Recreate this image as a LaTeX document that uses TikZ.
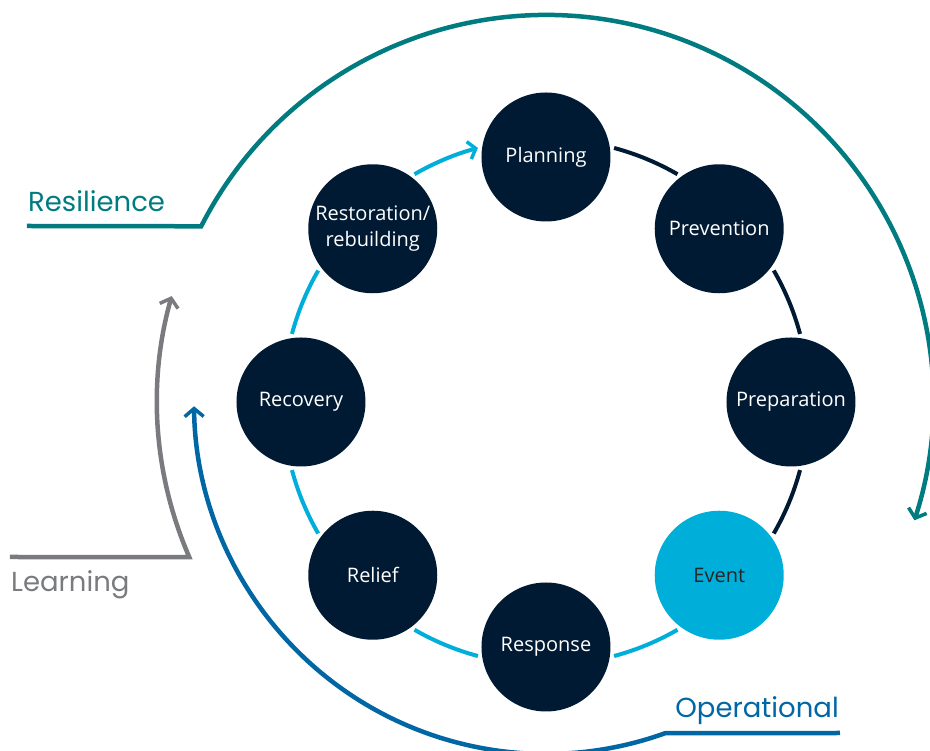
\documentclass[tikz,border=0pt]{standalone}
\usepackage{fontspec}
\setmainfont{Open Sans}
\newfontfamily\headfont{Poppins}
\usetikzlibrary{arrows.meta}

\definecolor{navy}{HTML}{011A33}
\definecolor{sky}{HTML}{00AEDA}
\definecolor{teal}{HTML}{007B80}
\definecolor{stone}{HTML}{7A7B7E}
\definecolor{ocean}{HTML}{0066A4}

\tikzset{
  stage/.style={circle, fill=navy, text=white, minimum size=129pt, inner sep=0pt,
    align=center, font=\fontsize{20}{26}\selectfont},
  ringdark/.style={draw=navy, line width=4pt},
  ringsky/.style={draw=sky, line width=4pt},
  loopline/.style={line width=4.5pt, -{Straight Barb[length=8pt,width=19pt,line width=3.5pt]}},
  looplabel/.style={font=\headfont\fontsize{27.5}{30}\selectfont, inner sep=0pt}
}

\begin{document}
\begin{tikzpicture}[x=1pt,y=1pt]
    \useasboundingbox (-546,-349) rectangle (384,402);

    % stages of the cycle
    \path (90:245) node [stage] (plan) {Planning};
    \path (45:245) node [stage] (prev) {Prevention};
    \path (0:245) node [stage] (prep) {Preparation};
    \path (-45:245) node [stage, fill=sky, text=black!85] (event) {Event};
    \path (-90:245) node [stage] (resp) {Response};
    \path (-135:245) node [stage] (relief) {Relief};
    \path (180:245) node [stage] (recov) {Recovery};
    \path (135:245) node [stage] (restore) {Restoration/\\rebuilding};

    % arcs between stages
    \foreach \a in {90,45,0}
	\draw [ringdark] (\a-15:263) arc[start angle=\a-15, end angle=\a-30, radius=263];
    \foreach \a in {-45,-90,-135,180}
	\draw [ringsky] (\a-15:263) arc[start angle=\a-15, end angle=\a-30, radius=263];
    \draw [ringsky, -{Straight Barb[length=7pt,width=18pt,line width=3.5pt]}]
	(120:263) arc[start angle=120, end angle=105, radius=263];

    % outer loops
    \path (-519,176) coordinate (res) (-536,-155) coordinate (lrn) (294,-331) coordinate (ops);
    \draw [loopline, teal] (res) -- (153:387) arc[start angle=153, end angle=-17.8, radius=387];
    \path (res) ++(1,14) node [looplabel, text=teal, anchor=base west] (reslabel) {Resilience};

    \draw [loopline, stone] (lrn) -- (203.5:389) arc[start angle=203.5, end angle=164.2, radius=389];
    \path (lrn) ++(1,-35) node [looplabel, text=stone, anchor=base west] (lrnlabel) {Learning};

    \draw [loopline, ocean] (ops) -- (-70.2:352) arc[start angle=-70.2, end angle=-179.3, radius=352];
    \path (ops) ++(-1,15) node [looplabel, text=ocean, anchor=base east] (opslabel) {Operational};
\end{tikzpicture}
\end{document}
